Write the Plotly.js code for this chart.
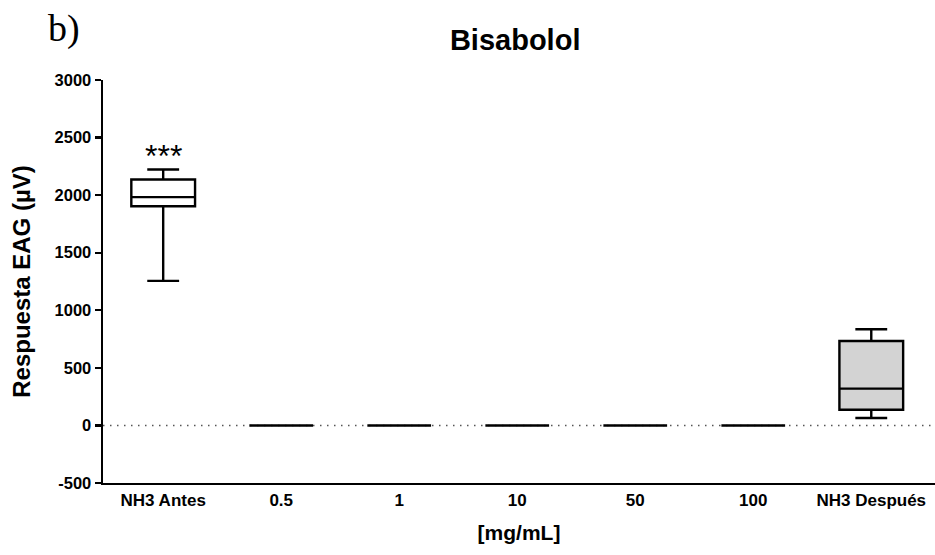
<!DOCTYPE html>
<html>
<head>
<meta charset="utf-8">
<script src="https://cdn.plot.ly/plotly-3.0.1.min.js"></script>
<style>html,body{margin:0;padding:0;background:#fff;}#chart{width:935px;height:555px;}</style>
</head>
<body>
<div id="chart"></div>
<script>
var categories = ["NH3 Antes", "0.5", "1", "10", "50", "100", "NH3 Después"];
var lowerfence = [1255, 0, 0, 0, 0, 0, 64];
var q1 =         [1904, 0, 0, 0, 0, 0, 136];
var median =     [1983, 0, 0, 0, 0, 0, 320];
var q3 =         [2136, 0, 0, 0, 0, 0, 733];
var upperfence = [2223, 0, 0, 0, 0, 0, 835];
var yTicks = [-500, 0, 500, 1000, 1500, 2000, 2500, 3000];
var significance = "***";

function pick(arr, idx) { return idx.map(function (i) { return arr[i]; }); }
function boxTrace(idx, fill) {
  return {
    type: "box",
    x: pick(categories, idx),
    q1: pick(q1, idx),
    median: pick(median, idx),
    q3: pick(q3, idx),
    lowerfence: pick(lowerfence, idx),
    upperfence: pick(upperfence, idx),
    width: 0.54,
    whiskerwidth: 0.5,
    fillcolor: fill,
    line: {color: "#000", width: 2.4},
    hoverinfo: "skip",
    showlegend: false
  };
}

var data = [boxTrace([0, 1, 2, 3, 4, 5], "#ffffff"), boxTrace([6], "#d3d3d3")];

var boldFont = {family: "Liberation Sans, Arial, sans-serif", color: "#000", weight: "bold"};

var layout = {
  width: 935, height: 555,
  margin: {l: 103, r: 0, t: 80, b: 72},
  paper_bgcolor: "#fff", plot_bgcolor: "#fff",
  title: {text: "Bisabolol", xref: "container", yref: "container",
          x: 0.551, xanchor: "center", y: 0.928, yanchor: "middle",
          font: Object.assign({}, boldFont, {size: 29})},
  xaxis: {
    type: "category", categoryorder: "array", categoryarray: categories,
    range: [-0.51, 6.54],
    showgrid: false, zeroline: false,
    showline: true, linecolor: "#000", linewidth: 2.4,
    ticks: "", ticklen: 0, tickfont: Object.assign({}, boldFont, {size: 17}),
    title: {text: "[mg/mL]", font: Object.assign({}, boldFont, {size: 21}), standoff: 17},
    fixedrange: true
  },
  yaxis: {
    range: [-500, 3000],
    tickvals: yTicks, ticktext: yTicks.map(String),
    showgrid: false, zeroline: false,
    showline: true, linecolor: "#000", linewidth: 2.4,
    ticks: "outside", ticklen: 6, tickwidth: 2.4, tickcolor: "#000",
    tickfont: Object.assign({}, boldFont, {size: 16.5}),
    title: {text: "Respuesta EAG (µV)", font: Object.assign({}, boldFont, {size: 24}), standoff: 17},
    fixedrange: true
  },
  shapes: [{
    type: "line", xref: "paper", yref: "y", x0: 0, x1: 1, y0: 0, y1: 0,
    layer: "below", line: {color: "#555", width: 1.5, dash: "1.5px,5.5px"}
  }],
  annotations: [
    {xref: "x", yref: "y", x: categories[0], y: 2339, text: significance,
     showarrow: false, yanchor: "middle", font: {family: "Liberation Sans, Arial, sans-serif", size: 32, color: "#000"}},
    {xref: "paper", yref: "paper", x: -0.068, y: 1.127, xanchor: "left", yanchor: "middle",
     text: "b)", showarrow: false, font: {family: "Liberation Serif, Times New Roman, serif", size: 38, color: "#000"}}
  ]
};

Plotly.newPlot("chart", data, layout, {displayModeBar: false, staticPlot: true});
</script>
</body>
</html>
